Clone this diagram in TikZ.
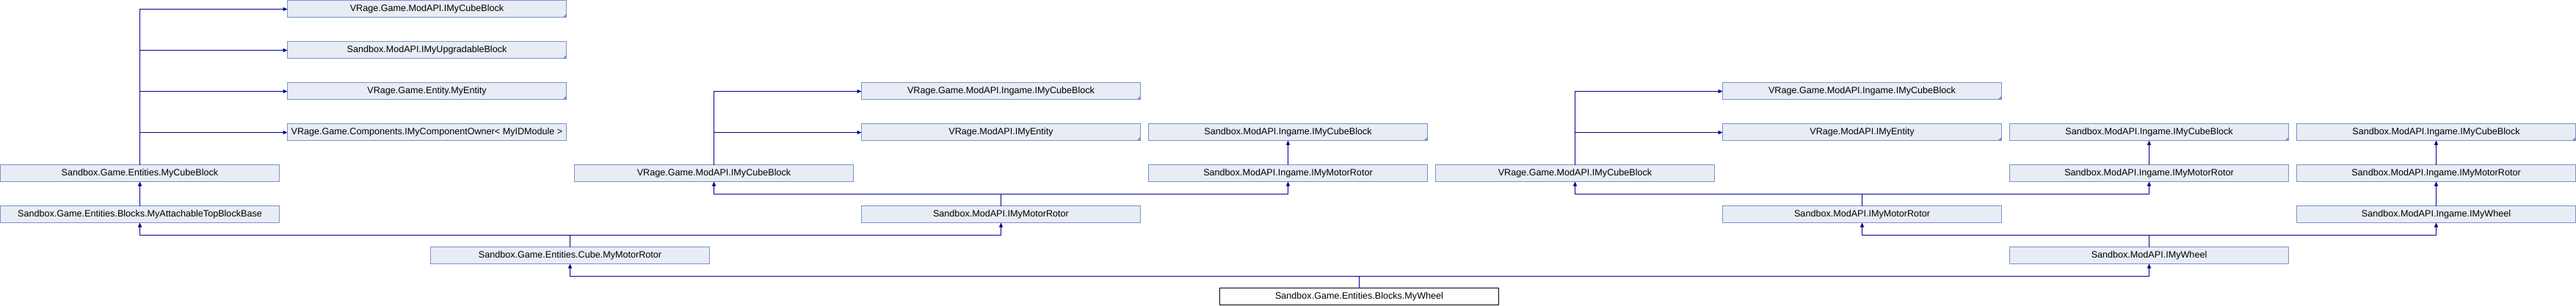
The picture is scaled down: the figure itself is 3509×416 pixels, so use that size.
\documentclass[tikz,border=0pt]{standalone}
\usepackage{fontspec}
\setmainfont{Liberation Sans}
\usepackage{xcolor}
\usepackage{tikz}
\usetikzlibrary{arrows.meta,positioning}

\definecolor{clsfill}{RGB}{232,236,245}
\definecolor{clsline}{RGB}{122,146,204}
\definecolor{inhline}{RGB}{0,0,140}

\begin{document}
\begin{tikzpicture}[
                x=1pt, y=-1pt,
                cls/.style={
                    draw=clsline,
                    line width=1pt,
                    fill=clsfill,
                    anchor=north west,
                    minimum width=380pt,
                    minimum height=23pt,
                    inner sep=0pt,
                    outer sep=0pt,
                    font=\fontsize{12.6}{14}\selectfont
                    },
                ext/.style={
                    cls,
                    path picture={\fill[clsline] ([xshift=-5pt]path picture bounding box.south east) -- (path picture bounding box.south east) -- ([yshift=5pt]path picture bounding box.south east) -- cycle;}
                    },
                self/.style={
                    cls,
                    draw=black,
                    fill=white
                    },
                inh/.style={
                    draw=inhline,
                    line width=1pt,
                    -{Triangle[length=6pt,width=5pt]}
                    }
                ]
                \useasboundingbox (0,0) rectangle (3509,416);

                \node[ext] (vgmCube) at (391.5,0.5) {VRage.Game.ModAPI.IMyCubeBlock};
                \node[ext] (smUpgr) at (391.5,56.5) {Sandbox.ModAPI.IMyUpgradableBlock};
                \node[ext] (vgEntity) at (391.5,112.5) {VRage.Game.Entity.MyEntity};
                \node[cls] (vgcOwner) at (391.5,168.5) {VRage.Game.Components.IMyComponentOwner<~MyIDModule~>};

                \node[ext] (vgmiCubeA) at (1173.5,112.5) {VRage.Game.ModAPI.Ingame.IMyCubeBlock};
                \node[ext] (vmEntityA) at (1173.5,168.5) {VRage.ModAPI.IMyEntity};
                \node[ext] (smiCubeA) at (1564.5,168.5) {Sandbox.ModAPI.Ingame.IMyCubeBlock};
                \node[ext] (vgmiCubeB) at (2346.5,112.5) {VRage.Game.ModAPI.Ingame.IMyCubeBlock};
                \node[ext] (vmEntityB) at (2346.5,168.5) {VRage.ModAPI.IMyEntity};
                \node[ext] (smiCubeB) at (2737.5,168.5) {Sandbox.ModAPI.Ingame.IMyCubeBlock};
                \node[ext] (smiCubeC) at (3128.5,168.5) {Sandbox.ModAPI.Ingame.IMyCubeBlock};

                \node[cls] (mcb) at (0.5,224.5) {Sandbox.Game.Entities.MyCubeBlock};
                \node[cls] (vgmCubeA) at (782.5,224.5) {VRage.Game.ModAPI.IMyCubeBlock};
                \node[cls] (smiRotorA) at (1564.5,224.5) {Sandbox.ModAPI.Ingame.IMyMotorRotor};
                \node[cls] (vgmCubeB) at (1955.5,224.5) {VRage.Game.ModAPI.IMyCubeBlock};
                \node[cls] (smiRotorB) at (2737.5,224.5) {Sandbox.ModAPI.Ingame.IMyMotorRotor};
                \node[cls] (smiRotorC) at (3128.5,224.5) {Sandbox.ModAPI.Ingame.IMyMotorRotor};

                \node[cls] (atb) at (0.5,280.5) {Sandbox.Game.Entities.Blocks.MyAttachableTopBlockBase};
                \node[cls] (smRotorA) at (1173.5,280.5) {Sandbox.ModAPI.IMyMotorRotor};
                \node[cls] (smRotorB) at (2346.5,280.5) {Sandbox.ModAPI.IMyMotorRotor};
                \node[cls] (smiWheel) at (3128.5,280.5) {Sandbox.ModAPI.Ingame.IMyWheel};

                \node[cls] (cmr) at (586.5,336.5) {Sandbox.Game.Entities.Cube.MyMotorRotor};
                \node[cls] (smWheel) at (2737.5,336.5) {Sandbox.ModAPI.IMyWheel};

                \node[self] (wheel) at (1661.5,392.5) {Sandbox.Game.Entities.Blocks.MyWheel};

                \draw[inh] (mcb.north) |- ([yshift=-0.5pt]vgmCube.west);
                \draw[inh] (mcb.north) |- ([yshift=-0.5pt]smUpgr.west);
                \draw[inh] (mcb.north) |- ([yshift=-0.5pt]vgEntity.west);
                \draw[inh] (mcb.north) |- ([yshift=-0.5pt]vgcOwner.west);
                \draw[inh] (atb.north) -- (mcb.south);

                \draw[inh] (cmr.north) -- ++(0,-16) -| (atb.south);
                \draw[inh] (cmr.north) -- ++(0,-16) -| (smRotorA.south);

                \draw[inh] (smRotorA.north) -- ++(0,-16) -| (vgmCubeA.south);
                \draw[inh] (smRotorA.north) -- ++(0,-16) -| (smiRotorA.south);
                \draw[inh] (vgmCubeA.north) |- ([yshift=-0.5pt]vgmiCubeA.west);
                \draw[inh] (vgmCubeA.north) |- ([yshift=-0.5pt]vmEntityA.west);
                \draw[inh] (smiRotorA.north) -- (smiCubeA.south);

                \draw[inh] (wheel.north) -- ++(0,-16) -| (cmr.south);
                \draw[inh] (wheel.north) -- ++(0,-16) -| (smWheel.south);

                \draw[inh] (smWheel.north) -- ++(0,-16) -| (smRotorB.south);
                \draw[inh] (smWheel.north) -- ++(0,-16) -| (smiWheel.south);

                \draw[inh] (smRotorB.north) -- ++(0,-16) -| (vgmCubeB.south);
                \draw[inh] (smRotorB.north) -- ++(0,-16) -| (smiRotorB.south);
                \draw[inh] (vgmCubeB.north) |- ([yshift=-0.5pt]vgmiCubeB.west);
                \draw[inh] (vgmCubeB.north) |- ([yshift=-0.5pt]vmEntityB.west);
                \draw[inh] (smiRotorB.north) -- (smiCubeB.south);

                \draw[inh] (smiWheel.north) -- (smiRotorC.south);
                \draw[inh] (smiRotorC.north) -- (smiCubeC.south);
\end{tikzpicture}
\end{document}
